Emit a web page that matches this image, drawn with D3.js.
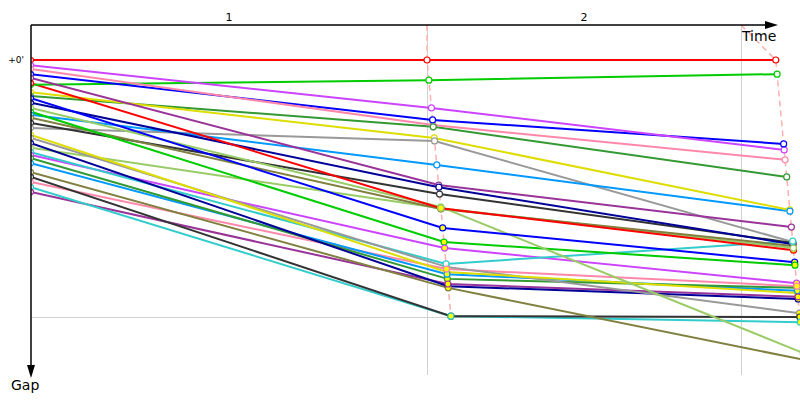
<!DOCTYPE html>
<html><head><meta charset="utf-8">
<script src="https://cdn.jsdelivr.net/npm/d3@7"></script>
<style>body{margin:0;background:#fff}svg{display:block;font-family:"DejaVu Sans",Verdana,sans-serif}</style>
</head><body><svg id="c" width="800" height="400"></svg>
<script>
// ---- data ----
const lapLabels = ["1", "2"];
const lapRefTime = [0, 990, 1775];      // seconds: reference grid per lap
const leaderTime = [0, 990, 1862];      // seconds: leader crossing time per lap
const gapTicks = [0];
const gapTickLabels = ["+0'"];
const gapGrid = [60];
const colors = ["#ff0000","#cc44ff","#ff88aa","#0000ff","#993399","#00cc00","#ff0000","#dddd00","#339933","#0000ff",
  "#000099","#99cc66","#00cc00","#0099ff","#808040","#333333","#999999","#dddd00","#999999","#000099",
  "#99cc66","#33cccc","#cc44ff","#339933","#0099ff","#808040","#333333","#ff88aa","#33cccc","#993399"];
const gapStart = [0,1.2,2.1,3.3,4.2,5.8,5.4,7.5,8.4,8.9,10.0,11.2,12.1,12.8,13.5,14.7,15.9,17.5,18.2,19.4,
  20.5,21.5,22.2,22.9,24.1,26.2,27.3,28.5,29.7,30.8];
const gapLap1 = [0,11.2,15.2,14.0,29.2,4.7,34.6,18.2,15.6,39.2,29.7,34.3,42.5,24.5,34.8,31.3,18.9,49.5,48.3,52.8,
  34.6,47.6,43.9,51.1,50.0,53.2,59.8,48.8,59.8,52.3];
const gapLap2 = [0,21.0,23.3,19.6,39.0,3.3,44.4,35.0,27.3,47.2,43.0,68.4,47.9,35.3,43.4,42.7,42.5,54.4,59.1,55.8,
  43.9,42.3,52.1,53.2,53.9,70.0,60.0,52.8,61.2,55.3];
const flagLap1 = [0,0,0,0,0,0,1,0,0,1,0,1,1,0,1,0,0,1,1,1,1,0,1,1,1,1,1,1,1,1];
const flagLap2 = [0,0,0,0,0,0,1,0,0,1,0,1,1,0,0,0,0,1,1,1,0,0,1,1,1,1,1,1,1,1];

// ---- chart ----
const svg = d3.select("#c");
const x = d3.scaleLinear().domain([0, 1922.5]).range([31, 800]);
const y = d3.scaleLinear().domain([0, 60]).range([60, 317]);
const yTop = 25, yBottom = 375;

svg.append("clipPath").attr("id","cp").append("rect").attr("x",31).attr("y",yTop).attr("width",769).attr("height",375);

// grid
svg.selectAll(".vg").data(lapRefTime.slice(1)).join("line")
  .attr("x1", d=>x(d)).attr("x2", d=>x(d)).attr("y1", yTop).attr("y2", yBottom)
  .attr("stroke","#d0d0d0").attr("stroke-width",1).attr("shape-rendering","crispEdges");
svg.selectAll(".hg").data(gapGrid).join("line")
  .attr("x1", 31).attr("x2", 800).attr("y1", d=>y(d)).attr("y2", d=>y(d))
  .attr("stroke","#d0d0d0").attr("stroke-width",1).attr("shape-rendering","crispEdges");

const drivers = colors.map((c,i)=>({c, g:[gapStart[i],gapLap1[i],gapLap2[i]], f:[0,flagLap1[i],flagLap2[i]]}));
const px = (lap,g) => lap===0 ? x(0) : x(leaderTime[lap]+g);

const plot = svg.append("g").attr("clip-path","url(#cp)");
const line = d3.line();
// lines
plot.selectAll(".s").data(drivers.slice().reverse()).join("path")
  .attr("d", d=>line(d.g.map((g,lap)=>[px(lap,g), y(g)])))
  .attr("fill","none").attr("stroke", d=>d.c).attr("stroke-width",2);

// lap dashed lines
[1,2].forEach(lap=>{
  const pts = drivers.map(d=>d.g[lap]).sort((a,b)=>a-b).map(g=>[px(lap,g), y(g)]);
  pts.unshift([x(lapRefTime[lap]), yTop]);
  plot.append("path").attr("d", line(pts)).attr("fill","none")
    .attr("stroke","#ffb0b0").attr("stroke-width",1.5).attr("stroke-dasharray","6,4");
});

// markers
drivers.forEach(d=>{
  d.g.forEach((g,lap)=>{
    plot.append("circle").attr("cx", px(lap,g)).attr("cy", y(g)).attr("r", lap===0?2.5:3)
      .attr("fill", d.f[lap] ? "#ffff00" : "#fff").attr("stroke", d.c).attr("stroke-width",1.2);
  });
});

// axes
svg.append("line").attr("x1",31).attr("x2",768).attr("y1",yTop).attr("y2",yTop).attr("stroke","#000").attr("stroke-width",1.5);
svg.append("path").attr("d","M765,21 L778,25 L765,29 Z").attr("fill","#000");
svg.append("line").attr("x1",31).attr("x2",31).attr("y1",yTop).attr("y2",368).attr("stroke","#000").attr("stroke-width",1.5);
svg.append("path").attr("d","M27,365 L31,378 L35,365 Z").attr("fill","#000");
svg.append("text").attr("x",742).attr("y",41).attr("font-size",14).text("Time");
svg.append("text").attr("x",11).attr("y",390).attr("font-size",14).text("Gap");

// lap labels centered between grid lines
svg.selectAll(".ll").data(lapLabels).join("text")
  .attr("x",(d,i)=>(x(lapRefTime[i])+x(lapRefTime[i+1]))/2).attr("y",21)
  .attr("text-anchor","middle").attr("font-size",11).text(d=>d);

svg.selectAll(".gt").data(gapTicks).join("text")
  .attr("x",24).attr("y",d=>y(d)+3).attr("text-anchor","end").attr("font-size",9)
  .text((d,i)=>gapTickLabels[i]);
</script></body></html>
